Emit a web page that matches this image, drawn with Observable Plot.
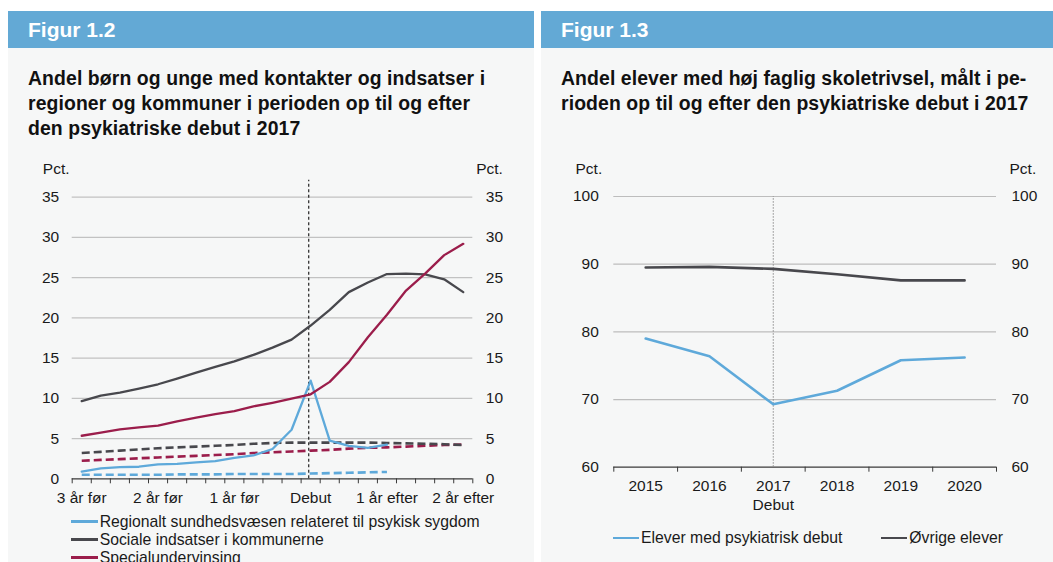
<!DOCTYPE html>
<html><head><meta charset="utf-8">
<script src="https://cdn.jsdelivr.net/npm/d3@7"></script>
<script src="https://cdn.jsdelivr.net/npm/@observablehq/plot@0.6"></script>
<style>
html,body{margin:0;padding:0;background:#fff;width:1053px;height:562px;overflow:hidden;font-family:"Liberation Sans",Arial,sans-serif;}
.panel{position:absolute;top:11px;height:560px;background:#f6f7f7;}
.head{position:absolute;left:0;right:0;top:0;height:37px;background:#63a9d5;color:#fff;font-weight:bold;font-size:21px;line-height:37px;padding-left:20px;}
.title{position:absolute;left:20px;top:54.8px;font-weight:bold;font-size:19.4px;line-height:25px;color:#111;white-space:nowrap;letter-spacing:0.1px;}
.chart{position:absolute;}
.legend{position:absolute;font-size:15.75px;color:#1a1a1a;}
.item{display:flex;align-items:center;height:18px;white-space:nowrap;}
.sw{display:inline-block;width:27px;height:2.6px;margin-right:2px;}
</style></head>
<body>
<div class="panel" style="left:8px;width:526px;">
  <div class="head">Figur 1.2</div>
  <div class="title">Andel børn og unge med kontakter og indsatser i<br>regioner og kommuner i perioden op til og efter<br>den psykiatriske debut i 2017</div>
</div>
<div class="panel" style="left:541px;width:512px;">
  <div class="head">Figur 1.3</div>
  <div class="title">Andel elever med høj faglig skoletrivsel, målt i pe-<br>rioden op til og efter den psykiatriske debut i 2017</div>
</div>
<div id="c1" class="chart" style="left:8px;top:160px;"></div>
<div id="c2" class="chart" style="left:541px;top:160px;"></div>
<div id="l1" class="legend" style="left:70.7px;top:512.7px;"></div>
<div id="l2" class="legend" style="left:613px;top:529px;display:flex;"></div>
<script>
// ---------- Figur 1.2 data ----------
const quarters = d3.range(-12, 9); // quarters relative to debut
const labelQuarters = [-12, -8, -4, 0, 4, 8];
const xLabels = ["3 år før", "2 år før", "1 år før", "Debut", "1 år efter", "2 år efter"];
const yTicksLeft = [0, 5, 10, 15, 20, 25, 30, 35];
const seriesNames = ["Regionalt sundhedsvæsen relateret til psykisk sygdom", "Sociale indsatser i kommunerne", "Specialundervinsing"];
const regional = [0.9, 1.3, 1.45, 1.5, 1.8, 1.85, 2.05, 2.2, 2.6, 2.9, 3.7, 6.1, 12.2, 4.75, 4.1, 3.85, 4.25];
const regionalOther = [0.5, 0.5, 0.5, 0.5, 0.5, 0.55, 0.55, 0.55, 0.6, 0.6, 0.6, 0.6, 0.65, 0.7, 0.75, 0.8, 0.85];
const sociale = [9.65, 10.35, 10.7, 11.2, 11.75, 12.45, 13.2, 13.9, 14.6, 15.4, 16.3, 17.3, 19.05, 21.0, 23.2, 24.4, 25.45, 25.5, 25.4, 24.8, 23.2];
const socialeOther = [3.2, 3.35, 3.5, 3.65, 3.8, 3.9, 4.0, 4.1, 4.2, 4.35, 4.45, 4.5, 4.5, 4.5, 4.5, 4.5, 4.45, 4.4, 4.35, 4.3, 4.2];
const special = [5.35, 5.75, 6.15, 6.4, 6.6, 7.15, 7.6, 8.05, 8.4, 9.0, 9.45, 9.95, 10.5, 12.05, 14.5, 17.6, 20.4, 23.4, 25.5, 27.8, 29.2];
const specialOther = [2.25, 2.35, 2.45, 2.55, 2.65, 2.75, 2.85, 2.95, 3.05, 3.2, 3.3, 3.4, 3.5, 3.6, 3.75, 3.85, 3.9, 4.0, 4.1, 4.2, 4.25];

// ---------- Figur 1.3 data ----------
const years = [2015, 2016, 2017, 2018, 2019, 2020];
const yTicksRight = [60, 70, 80, 90, 100];
const debutYear = 2017;
const seriesNames2 = ["Elever med psykiatrisk debut", "Øvrige elever"];
const psykDebut = [79.0, 76.4, 69.3, 71.3, 75.8, 76.2];
const oevrige = [89.5, 89.6, 89.3, 88.5, 87.6, 87.6];

const BLUE = "#5ea9da", GREY = "#48484d", RED = "#9b1d4b";
const font = "'Liberation Sans', Arial, sans-serif";
const rows = (xs, vs) => vs.map((v, i) => ({x: xs[i], v}));

const solid = {strokeWidth: 2.3};
const dashed = {strokeWidth: 2.6, strokeDasharray: "8,4", strokeLinecap: "butt"};
const axisStyle = {fontSize: "15.5px", fontFamily: font, background: "transparent", color: "#1a1a1a", overflow: "visible"};

const p1 = Plot.plot({
  width: 526, height: 350,
  marginLeft: 63.7, marginRight: 61.7, marginTop: 36.7, marginBottom: 31.7,
  style: axisStyle,
  x: {domain: [-12.5, 8.5], label: null},
  y: {domain: [0, 35], label: null},
  marks: [
    Plot.gridY(yTicksLeft.filter(v => v > 0), {stroke: "#c2c2c2", strokeOpacity: 1, strokeWidth: 1.3}),
    Plot.axisY(yTicksLeft, {anchor: "left", tickSize: 0, tickPadding: 13, label: null}),
    Plot.axisY(yTicksLeft, {anchor: "right", tickSize: 0, tickPadding: 13, label: null}),
    Plot.axisX(d3.range(-12.5, 9, 1), {tickSize: 5, tickFormat: () => "", stroke: "#3a3a3a", label: null}),
    Plot.axisX(labelQuarters, {tickSize: 0, tickPadding: 13, tickFormat: d => xLabels[labelQuarters.indexOf(d)], label: null}),
    Plot.ruleY([0], {stroke: "#3a3a3a", strokeWidth: 1.2}),
    Plot.text(["Pct."], {frameAnchor: "top-left", lineAnchor: "middle", textAnchor: "start", dx: -29.4, dy: -27.7}),
    Plot.text(["Pct."], {frameAnchor: "top-right", lineAnchor: "middle", textAnchor: "start", dx: 3.4, dy: -27.7}),
    Plot.line(rows(quarters, regionalOther), {x: "x", y: "v", stroke: BLUE, ...dashed}),
    Plot.line(rows(quarters, specialOther), {x: "x", y: "v", stroke: RED, ...dashed}),
    Plot.line(rows(quarters, socialeOther), {x: "x", y: "v", stroke: GREY, ...dashed}),
    Plot.ruleX([-0.1], {y1: 0, y2: 37.1, stroke: "#111", strokeWidth: 1.1, strokeDasharray: "3,2.5"}),
    Plot.line(rows(quarters, regional), {x: "x", y: "v", stroke: BLUE, ...solid}),
    Plot.line(rows(quarters, sociale), {x: "x", y: "v", stroke: GREY, ...solid}),
    Plot.line(rows(quarters, special), {x: "x", y: "v", stroke: RED, ...solid})
  ]
});
document.getElementById("c1").append(p1);

const p2 = Plot.plot({
  width: 512, height: 360,
  marginLeft: 72.3, marginRight: 57, marginTop: 36, marginBottom: 53.3,
  style: axisStyle,
  x: {domain: [2014.5, 2020.5], label: null},
  y: {domain: [60, 100], label: null},
  marks: [
    Plot.gridY(yTicksRight.filter(v => v > 60), {stroke: "#bdbdbd", strokeOpacity: 1, strokeWidth: 1.2}),
    Plot.axisY(yTicksRight, {anchor: "left", tickSize: 0, tickPadding: 15, label: null}),
    Plot.axisY(yTicksRight, {anchor: "right", tickSize: 0, tickPadding: 15, label: null}),
    Plot.axisX(d3.range(2014.5, 2021, 1), {tickSize: 5, tickFormat: () => "", stroke: "#3a3a3a", label: null}),
    Plot.axisX(years, {tickSize: 0, tickPadding: 13, tickFormat: d => String(d), label: null}),
    Plot.text(["Debut"], {x: () => debutYear, frameAnchor: "bottom", lineAnchor: "middle", dy: 37.5}),
    Plot.ruleY([60], {stroke: "#3a3a3a", strokeWidth: 1.2}),
    Plot.ruleX([debutYear], {y1: 60, y2: 100, stroke: "#8c8c8c", strokeWidth: 1, strokeDasharray: "1.5,1.5"}),
    Plot.text(["Pct."], {frameAnchor: "top-left", lineAnchor: "middle", textAnchor: "end", dx: -11.6, dy: -27.5}),
    Plot.text(["Pct."], {frameAnchor: "top-right", lineAnchor: "middle", textAnchor: "start", dx: 13, dy: -27.5}),
    Plot.line(rows(years, oevrige), {x: "x", y: "v", stroke: GREY, strokeWidth: 2.6}),
    Plot.line(rows(years, psykDebut), {x: "x", y: "v", stroke: BLUE, strokeWidth: 2.6})
  ]
});
document.getElementById("c2").append(p2);

// legends
const l1 = document.getElementById("l1");
[BLUE, GREY, RED].forEach((c, i) => {
  const d = document.createElement("div"); d.className = "item";
  d.innerHTML = `<span class="sw" style="background:${c}"></span><span>${seriesNames[i]}</span>`;
  l1.append(d);
});
const l2 = document.getElementById("l2");
[BLUE, GREY].forEach((c, i) => {
  const d = document.createElement("div"); d.className = "item";
  d.style.marginRight = i === 0 ? "39px" : "0";
  d.innerHTML = `<span class="sw" style="background:${c};width:26px"></span><span>${seriesNames2[i]}</span>`;
  l2.append(d);
});
</script>
</body></html>
